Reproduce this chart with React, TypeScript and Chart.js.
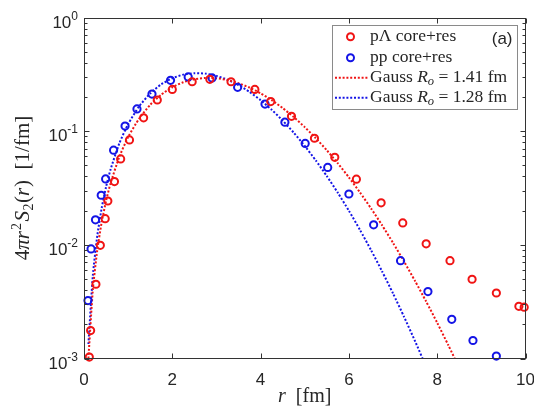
import React, { useEffect, useRef } from 'react';
import { Chart, registerables } from 'chart.js';

Chart.register(...registerables);

// ---- data ----
const lamR = [0.12, 0.15, 0.27, 0.37, 0.48, 0.54, 0.69, 0.83, 1.03, 1.35, 1.66, 2.0, 2.45, 2.85, 3.33, 3.87, 4.23, 4.70, 5.22, 5.68, 6.17, 6.73, 7.22, 7.75, 8.29, 8.79, 9.34, 9.85, 9.97];
const lamV = [1.03e-3, 1.76e-3, 4.5e-3, 9.9e-3, 0.017, 0.0243, 0.036, 0.057, 0.0837, 0.131, 0.188, 0.233, 0.272, 0.286, 0.272, 0.233, 0.182, 0.135, 0.0866, 0.0589, 0.0378, 0.0234, 0.0156, 0.0102, 7.26e-3, 4.98e-3, 3.77e-3, 2.88e-3, 2.83e-3];

const ppR = [0.09, 0.16, 0.26, 0.39, 0.49, 0.67, 0.93, 1.2, 1.54, 1.96, 2.36, 2.9, 3.48, 4.1, 4.55, 5.01, 5.52, 6.0, 6.56, 7.17, 7.79, 8.33, 8.81, 9.34];
const ppV = [3.23e-3, 9.2e-3, 0.0166, 0.0273, 0.038, 0.068, 0.111, 0.157, 0.212, 0.28, 0.30, 0.294, 0.243, 0.173, 0.12, 0.078, 0.048, 0.028, 0.015, 7.26e-3, 3.88e-3, 2.21e-3, 1.44e-3, 1.05e-3];

const gaussR = [0.1, 0.2, 0.3, 0.4, 0.5, 0.6, 0.8, 1.0, 1.25, 1.5, 1.75, 2.0, 2.25, 2.5, 2.75, 3.0, 3.25, 3.5, 3.75, 4.0, 4.25, 4.5, 4.75, 5.0, 5.25, 5.5, 5.75, 6.0, 6.25, 6.5, 6.75, 7.0, 7.25, 7.5, 7.75, 8.0, 8.25, 8.5];
const gaussLam = [1.005e-3, 4.005e-3, 8.956e-3, 0.01578, 0.02438, 0.03463, 0.05943, 0.08875, 0.1292, 0.1706, 0.2097, 0.2434, 0.2696, 0.2866, 0.2941, 0.2921, 0.2816, 0.2642, 0.2415, 0.2153, 0.1876, 0.1597, 0.1331, 0.1085, 0.08668, 0.06786, 0.05206, 0.03918, 0.02893, 0.02096, 0.0149, 0.0104, 0.007126, 0.004795, 0.003172, 0.002061, 0.001314, 0.000824];
const gaussPP = [1.343e-3, 5.348e-3, 0.01194, 0.021, 0.03237, 0.04584, 0.07808, 0.1155, 0.1656, 0.2147, 0.2582, 0.2923, 0.3145, 0.3239, 0.3208, 0.3066, 0.2835, 0.2542, 0.2213, 0.1874, 0.1544, 0.124, 0.09706, 0.07414, 0.05528, 0.04026, 0.02865, 0.01993, 0.01355, 0.009008, 0.005859, 0.003731, 0.002324, 0.001416, 0.000845, 0.000494, 0.000276, 0.000158];

const xTickVals = [0, 2, 4, 6, 8, 10];
const xTickLabels = ['0', '2', '4', '6', '8', '10'];
const yDecades = [1e-3, 1e-2, 1e-1, 1];
const yExponents = ['-3', '-2', '-1', '0'];
const yMinorMult = [2, 3, 4, 5, 6, 7, 8, 9];

const pointNames = ['pΛ core+res', 'pp core+res'];
const gaussRadii = ['1.41', '1.28'];
const panelTag = '(a)';

const RED = '#f01414';
const BLUE = '#1414e6';
const AXIS = '#333333';
const TXT = '#262626';
const SANS = '"Liberation Sans", Arial, sans-serif';
const SERIF = '"Liberation Serif", "Times New Roman", serif';

type Seg = { t: string; font: string; dy?: number; gap?: number };

function segsWidth(ctx: CanvasRenderingContext2D, segs: Seg[]) {
  let w = 0;
  for (const s of segs) { ctx.font = s.font; w += ctx.measureText(s.t).width + (s.gap || 0); }
  return w;
}
function drawSegs(ctx: CanvasRenderingContext2D, segs: Seg[], x: number, y: number) {
  let cx = x;
  for (const s of segs) {
    ctx.font = s.font;
    ctx.fillText(s.t, cx, y + (s.dy || 0));
    cx += ctx.measureText(s.t).width + (s.gap || 0);
  }
}

const decor = {
  id: 'decor',
  afterDraw(chart: any) {
    const ctx: CanvasRenderingContext2D = chart.ctx;
    const { left, right, top, bottom } = chart.chartArea;
    const xs = chart.scales.x;
    const ys = chart.scales.y;
    ctx.save();
    // frame
    ctx.strokeStyle = AXIS;
    ctx.lineWidth = 1;
    const L = Math.round(left) + 0.5, R = Math.round(right) - 0.5, T = Math.round(top) + 0.5, B = Math.round(bottom) - 0.5;
    ctx.strokeRect(L, T, R - L, B - T);
    ctx.beginPath();
    xTickVals.forEach((v) => {
      const px = Math.round(xs.getPixelForValue(v)) + 0.5;
      ctx.moveTo(px, B); ctx.lineTo(px, B - 5);
      ctx.moveTo(px, T); ctx.lineTo(px, T + 5);
    });
    yDecades.forEach((d, i) => {
      const py = Math.round(ys.getPixelForValue(d)) + 0.5;
      ctx.moveTo(L, py); ctx.lineTo(L + 5, py);
      ctx.moveTo(R, py); ctx.lineTo(R - 5, py);
      if (i < yDecades.length - 1) {
        yMinorMult.forEach((m) => {
          const pm = Math.round(ys.getPixelForValue(d * m)) + 0.5;
          ctx.moveTo(L, pm); ctx.lineTo(L + 3, pm);
          ctx.moveTo(R, pm); ctx.lineTo(R - 3, pm);
        });
      }
    });
    ctx.stroke();

    // x tick labels
    ctx.fillStyle = TXT;
    ctx.textBaseline = 'alphabetic';
    ctx.textAlign = 'center';
    ctx.font = `17px ${SANS}`;
    xTickVals.forEach((v, i) => {
      ctx.fillText(xTickLabels[i], xs.getPixelForValue(v), 384.5);
    });
    // y tick labels: 10^e
    ctx.textAlign = 'left';
    yDecades.forEach((d, i) => {
      const py = ys.getPixelForValue(d);
      ctx.font = `12px ${SANS}`;
      const we = ctx.measureText(yExponents[i]).width;
      ctx.font = `17px ${SANS}`;
      const wb = ctx.measureText('10').width;
      const xe = left - 6 - we;
      ctx.fillText('10', xe - wb, py + 10);
      ctx.font = `12px ${SANS}`;
      ctx.fillText(yExponents[i], xe, py + 2);
    });

    // x title
    const xt: Seg[] = [
      { t: 'r', font: `italic 20px ${SERIF}` },
      { t: '  [fm]', font: `20px ${SERIF}` },
    ];
    const xw = segsWidth(ctx, xt);
    drawSegs(ctx, xt, (left + right) / 2 - xw / 2, 402);

    // y title (rotated)
    const yt: Seg[] = [
      { t: '4', font: `21px ${SERIF}` },
      { t: 'πr', font: `italic 21px ${SERIF}`, gap: 1 },
      { t: '2', font: `14px ${SERIF}`, dy: -8, gap: 1.5 },
      { t: 'S', font: `italic 21px ${SERIF}`, gap: 0.5 },
      { t: '2', font: `14px ${SERIF}`, dy: 4, gap: 0.5 },
      { t: '(', font: `21px ${SERIF}` },
      { t: 'r', font: `italic 21px ${SERIF}`, gap: 1 },
      { t: ')  [1/fm]', font: `21px ${SERIF}` },
    ];
    const yw = segsWidth(ctx, yt);
    ctx.save();
    ctx.translate(29, (top + bottom) / 2);
    ctx.rotate(-Math.PI / 2);
    drawSegs(ctx, yt, -yw / 2, 0);
    ctx.restore();

    // legend box
    ctx.fillStyle = '#ffffff';
    ctx.fillRect(332.5, 25.5, 185, 84);
    ctx.strokeStyle = '#8a8a8a';
    ctx.lineWidth = 1;
    ctx.strokeRect(332.5, 25.5, 185, 84);
    const rows = [36.7, 57.7, 77.7, 97.7];
    const cols = [RED, BLUE];
    ctx.lineWidth = 2;
    cols.forEach((c, i) => {
      ctx.strokeStyle = c;
      ctx.beginPath();
      ctx.arc(350.5, rows[i], 3.5, 0, Math.PI * 2);
      ctx.stroke();
    });
    cols.forEach((c, i) => {
      ctx.strokeStyle = c;
      ctx.setLineDash([2, 1.8]);
      ctx.beginPath();
      ctx.moveTo(335, rows[i + 2]);
      ctx.lineTo(368, rows[i + 2]);
      ctx.stroke();
      ctx.setLineDash([]);
    });
    ctx.fillStyle = TXT;
    ctx.textBaseline = 'middle';
    pointNames.forEach((n, i) => {
      drawSegs(ctx, [{ t: n, font: `17.5px ${SERIF}` }], 370, rows[i]);
    });
    gaussRadii.forEach((rv, i) => {
      drawSegs(ctx, [
        { t: 'Gauss ', font: `17.5px ${SERIF}` },
        { t: 'R', font: `italic 17.5px ${SERIF}` },
        { t: 'o', font: `italic 12.5px ${SERIF}`, dy: 4 },
        { t: ' = ' + rv + ' fm', font: `17.5px ${SERIF}` },
      ], 370, rows[i + 2]);
    });
    ctx.font = `17px ${SANS}`;
    ctx.textAlign = 'right';
    ctx.fillText(panelTag, 512.5, 39.5);
    ctx.restore();
  },
};

export default function App() {
  const ref = useRef<HTMLCanvasElement | null>(null);
  useEffect(() => {
    const prevMargin = document.body.style.margin;
    document.body.style.margin = '0';
    const canvas = ref.current!;
    const toXY = (xs: number[], ys: number[]) => xs.map((x, i) => ({ x, y: ys[i] }));
    const chart = new Chart(canvas, {
      type: 'scatter',
      data: {
        datasets: [
          {
            label: pointNames[0], data: toXY(lamR, lamV), showLine: false,
            pointStyle: 'circle', pointRadius: 3.6, borderWidth: 2, borderColor: RED, backgroundColor: 'rgba(0,0,0,0)', clip: false,
          } as any,
          {
            label: pointNames[1], data: toXY(ppR, ppV), showLine: false,
            pointStyle: 'circle', pointRadius: 3.6, borderWidth: 2, borderColor: BLUE, backgroundColor: 'rgba(0,0,0,0)', clip: false,
          } as any,
          {
            label: 'Gauss ' + gaussRadii[0], data: toXY(gaussR, gaussLam), showLine: true, pointRadius: 0,
            borderColor: RED, borderWidth: 2, borderDash: [2, 1.8], tension: 0.2, fill: false,
          } as any,
          {
            label: 'Gauss ' + gaussRadii[1], data: toXY(gaussR, gaussPP), showLine: true, pointRadius: 0,
            borderColor: BLUE, borderWidth: 2, borderDash: [2, 1.8], tension: 0.2, fill: false,
          } as any,
        ],
      },
      options: {
        animation: false,
        responsive: false,
        maintainAspectRatio: false,
        events: [],
        layout: { padding: { top: 17.5, right: 8.5, bottom: 0, left: 0 } },
        plugins: { legend: { display: false }, tooltip: { enabled: false } },
        scales: {
          x: {
            type: 'linear', min: 0, max: 10,
            ticks: { display: false }, grid: { display: false }, border: { display: false },
            afterFit: (s: any) => { s.height = 48.5; },
          },
          y: {
            type: 'logarithmic', min: 1e-3, max: 1,
            ticks: { display: false }, grid: { display: false }, border: { display: false },
            afterFit: (s: any) => { s.width = 84; },
          },
        },
      } as any,
      plugins: [decor],
    });
    return () => {
      chart.destroy();
      document.body.style.margin = prevMargin;
    };
  }, []);
  return (
    <div style={{ position: 'fixed', left: 0, top: 0, width: 534, height: 407, background: '#fff' }}>
      <canvas ref={ref} width={534} height={407} style={{ display: 'block', width: 534, height: 407 }} />
    </div>
  );
}
